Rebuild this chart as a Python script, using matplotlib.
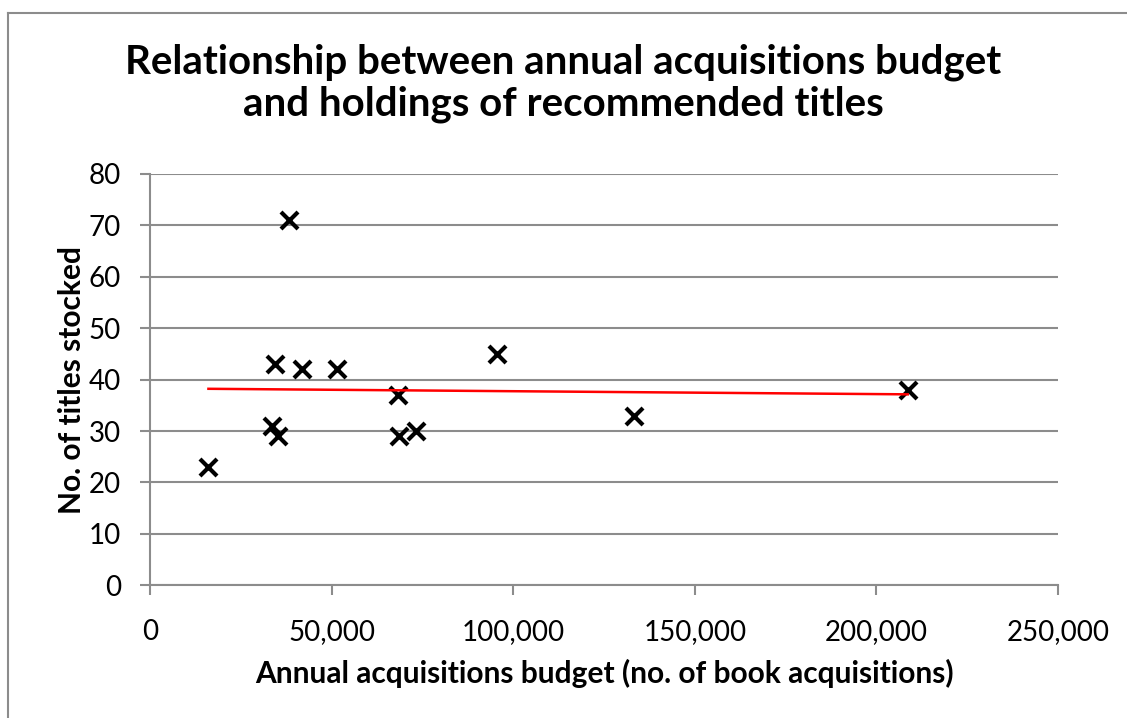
import numpy as np
import matplotlib.pyplot as plt
from matplotlib.ticker import FuncFormatter

# Library acquisitions budget vs. recommended titles held
budget = [16000, 34300, 41900, 51300, 38300, 33600, 35100,
          68100, 68600, 73200, 95400, 133200, 208600]
titles = [23, 43, 42, 42, 71, 31, 29, 37, 29, 30, 45, 33, 38]

x_ticks = [0, 50000, 100000, 150000, 200000, 250000]
y_ticks = [0, 10, 20, 30, 40, 50, 60, 70, 80]

plt.rcParams['font.family'] = ['Lato', 'DejaVu Sans']

fig = plt.figure(figsize=(11.27, 7.18), dpi=100)
ax = fig.add_axes([0.1334, 0.1848, 0.8054, 0.5729])

# gray frame round the chart area (left and top edges show)
fig.add_artist(plt.Line2D([8 / 1127, 8 / 1127], [0, 1 - 13 / 718],
                          transform=fig.transFigure, color='#8c8c8c', lw=1.5))
fig.add_artist(plt.Line2D([8 / 1127, 1], [1 - 13 / 718, 1 - 13 / 718],
                          transform=fig.transFigure, color='#8c8c8c', lw=1.5))

ax.scatter(budget, titles, marker='x', s=150, c='black', linewidths=3, zorder=3)

# linear trend line over the data range
bx = np.array(budget, dtype=float)
k, b = np.polyfit(bx, titles, 1)
xs = np.array([bx.min(), bx.max()])
ax.plot(xs, k * xs + b, color='#ff0000', lw=1.8, zorder=4)

ax.set_xlim(0, 250000)
ax.set_ylim(0, 80)
ax.set_xticks(x_ticks)
ax.set_yticks(y_ticks)
ax.xaxis.set_major_formatter(FuncFormatter(lambda v, p: f'{int(v):,}'))

ax.grid(axis='y', color='#8c8c8c', lw=1.5)
ax.set_axisbelow(True)
for s in ['top', 'right']:
    ax.spines[s].set_visible(False)
for s in ['left', 'bottom']:
    ax.spines[s].set_color('#8c8c8c')
    ax.spines[s].set_linewidth(1.5)
ax.tick_params(axis='both', colors='#8c8c8c', width=1.5, length=7,
               labelcolor='black', labelsize=20)
ax.tick_params(axis='x', pad=17)
ax.tick_params(axis='y', pad=14)

ax.set_xlabel('Annual acquisitions budget (no. of book acquisitions)',
              fontsize=21.5, fontweight='bold', labelpad=10)
ax.set_ylabel('No. of titles stocked', fontsize=21.5, fontweight='bold', labelpad=2)

fig.text(0.5, 1 - 62 / 718, 'Relationship between annual acquisitions budget',
         ha='center', va='center', fontsize=29, fontweight='bold')
fig.text(0.5, 1 - 104 / 718, 'and holdings of recommended titles',
         ha='center', va='center', fontsize=29, fontweight='bold')

fig.savefig('out.png', dpi=100)
